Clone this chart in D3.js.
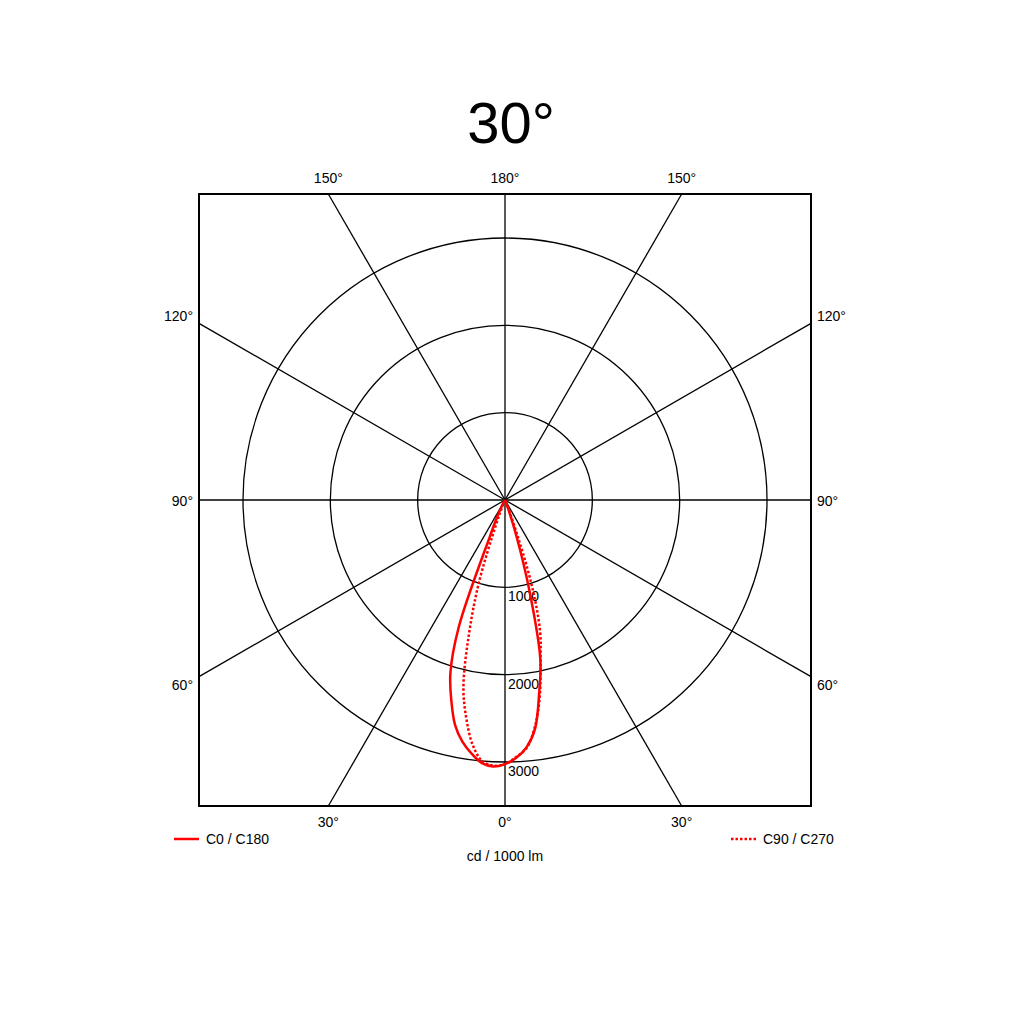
<!DOCTYPE html>
<html>
<head>
<meta charset="utf-8">
<script src="https://cdn.jsdelivr.net/npm/d3@7"></script>
<style>
  body { margin: 0; background: #fff; }
  text { font-family: "Liberation Sans", Arial, sans-serif; }
</style>
</head>
<body>
<div id="vis"></div>
<script>
/*
Data
*/

// gamma angles (deg from nadir) and intensities in cd / 1000 lm
const gamma = [0, 2.5, 5, 7.5, 10, 12.5, 15, 17.5, 20, 22.5, 25, 27.5, 30, 35, 40, 45, 50, 60, 70, 80, 90];
const c0   = [3024, 2955, 2840, 2640, 2250, 1870, 1100, 450, 100, 20, 0, 0, 0, 0, 0, 0, 0, 0, 0, 0, 0];
const c180 = [3024, 3055, 3025, 2930, 2810, 2640, 2375, 2080, 1550, 450, 200, 80, 30, 0, 0, 0, 0, 0, 0, 0, 0];
const c90  = [3024, 2945, 2850, 2620, 2290, 1880, 1550, 1000, 300, 60, 0, 0, 0, 0, 0, 0, 0, 0, 0, 0, 0];
const c270 = [3024, 3045, 3000, 2830, 2545, 2200, 1600, 1000, 300, 60, 0, 0, 0, 0, 0, 0, 0, 0, 0, 0, 0];

const ringValues = [1000, 2000, 3000];
const spokeAngles = [0, 30, 60, 90, 120, 150, 180, 210, 240, 270, 300, 330];
const topLabels = ["150°", "180°", "150°"];
const sideLabels = ["120°", "90°", "60°"];
const bottomLabels = ["30°", "0°", "30°"];
const legendLabels = ["C0 / C180", "C90 / C270"];
const unitLabel = "cd / 1000 lm";
const title = "30°";

/*
Size constants
*/

const WIDTH = 1024;
const HEIGHT = 1024;
const cx = 505, cy = 500;
const half = 306;

const svg = d3.select("#vis")
    .append("svg")
    .attr("width", WIDTH)
    .attr("height", HEIGHT);

const r = d3.scaleLinear().domain([0, 3000]).range([0, 262]);

const g = svg.append("g").attr("transform", `translate(${cx}, ${cy})`);

// rings
g.selectAll("circle.ring")
    .data(ringValues)
    .enter()
    .append("circle")
    .attr("class", "ring")
    .attr("r", d => r(d))
    .attr("fill", "none")
    .attr("stroke", "#000")
    .attr("stroke-width", 1.3);

// spokes out to the frame
g.selectAll("line.spoke")
    .data(spokeAngles)
    .enter()
    .append("line")
    .attr("x1", 0).attr("y1", 0)
    .attr("x2", d => {
        const a = d * Math.PI / 180;
        const len = half / Math.max(Math.abs(Math.sin(a)), Math.abs(Math.cos(a)));
        return len * Math.sin(a);
    })
    .attr("y2", d => {
        const a = d * Math.PI / 180;
        const len = half / Math.max(Math.abs(Math.sin(a)), Math.abs(Math.cos(a)));
        return len * Math.cos(a);
    })
    .attr("stroke", "#000")
    .attr("stroke-width", 1.3);

// frame
g.append("rect")
    .attr("x", -half).attr("y", -half)
    .attr("width", half * 2).attr("height", half * 2)
    .attr("fill", "none")
    .attr("stroke", "#000")
    .attr("stroke-width", 2);

// ring values
g.selectAll("text.ringlabel")
    .data(ringValues)
    .enter()
    .append("text")
    .attr("x", 3)
    .attr("y", d => r(d) + 14)
    .attr("font-size", 14)
    .text(d => d);

// curve: left half uses the second plane, right half the first
function contour(right, left) {
    const pts = [];
    for (let i = gamma.length - 1; i >= 0; i--) {
        if (left[i] === 0 && (i === 0 || left[i - 1] === 0)) continue;
        pts.push([Math.PI + gamma[i] * Math.PI / 180, r(left[i])]);
    }
    for (let i = 1; i < gamma.length; i++) {
        if (right[i] === 0 && right[i - 1] === 0) break;
        pts.push([Math.PI - gamma[i] * Math.PI / 180, r(right[i])]);
    }
    return pts;
}

const radial = d3.lineRadial()
    .angle(d => d[0])
    .radius(d => d[1])
    .curve(d3.curveCatmullRom.alpha(0.5));

g.append("path")
    .attr("d", radial(contour(c90, c270)))
    .attr("fill", "none")
    .attr("stroke", "#ff0000")
    .attr("stroke-width", 2.5)
    .attr("stroke-dasharray", "2.5,2");

g.append("path")
    .attr("d", radial(contour(c0, c180)))
    .attr("fill", "none")
    .attr("stroke", "#ff0000")
    .attr("stroke-width", 2.5);

// angle labels
const offs = half * Math.tan(Math.PI / 6);
const xs = [cx - offs, cx, cx + offs];
const ys = [316, 501, 685];

svg.selectAll("text.top")
    .data(topLabels)
    .enter()
    .append("text")
    .attr("x", (d, i) => xs[i])
    .attr("y", 183)
    .attr("text-anchor", "middle")
    .attr("font-size", 14)
    .text(d => d);

svg.selectAll("text.bottom")
    .data(bottomLabels)
    .enter()
    .append("text")
    .attr("x", (d, i) => xs[i])
    .attr("y", 827)
    .attr("text-anchor", "middle")
    .attr("font-size", 14)
    .text(d => d);

svg.selectAll("text.left")
    .data(sideLabels)
    .enter()
    .append("text")
    .attr("x", cx - half - 6)
    .attr("y", (d, i) => ys[i] + 5)
    .attr("text-anchor", "end")
    .attr("font-size", 14)
    .text(d => d);

svg.selectAll("text.right")
    .data(sideLabels)
    .enter()
    .append("text")
    .attr("x", cx + half + 6)
    .attr("y", (d, i) => ys[i] + 5)
    .attr("font-size", 14)
    .text(d => d);

// title
svg.append("text")
    .attr("x", 511)
    .attr("y", 143)
    .attr("text-anchor", "middle")
    .attr("font-size", 58)
    .text(title);

// legend
svg.append("line")
    .attr("x1", 174).attr("x2", 199)
    .attr("y1", 839).attr("y2", 839)
    .attr("stroke", "#ff0000")
    .attr("stroke-width", 2.5);
svg.append("text")
    .attr("x", 206).attr("y", 844)
    .attr("font-size", 14)
    .text(legendLabels[0]);

svg.append("line")
    .attr("x1", 731).attr("x2", 757)
    .attr("y1", 839).attr("y2", 839)
    .attr("stroke", "#ff0000")
    .attr("stroke-width", 2.5)
    .attr("stroke-dasharray", "2.5,2");
svg.append("text")
    .attr("x", 763).attr("y", 844)
    .attr("font-size", 14)
    .text(legendLabels[1]);

svg.append("text")
    .attr("x", cx).attr("y", 861)
    .attr("text-anchor", "middle")
    .attr("font-size", 14)
    .text(unitLabel);
</script>
</body>
</html>
